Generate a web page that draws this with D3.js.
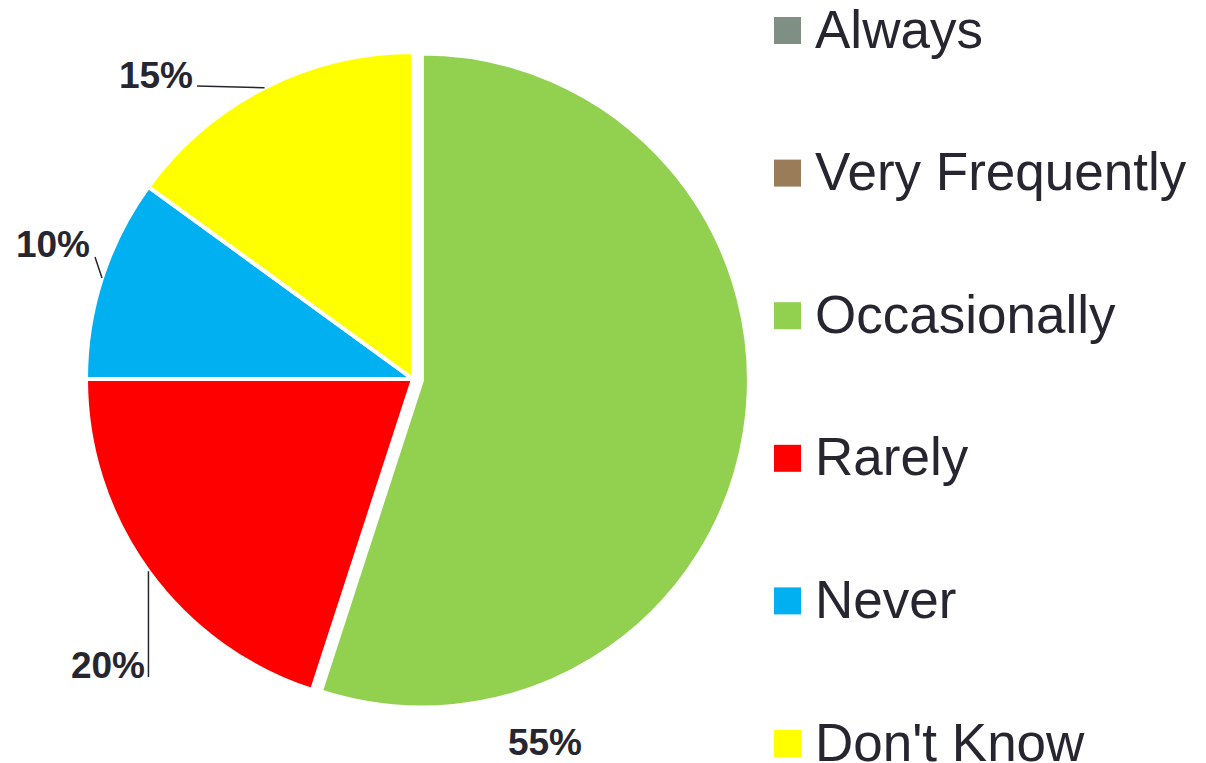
<!DOCTYPE html>
<html><head><meta charset="utf-8">
<script src="https://cdn.jsdelivr.net/npm/d3@7"></script>
<style>html,body{margin:0;padding:0;background:#fff;}svg{display:block;}</style>
</head><body>
<svg id="chart" width="1206" height="763"></svg>
<script>
const categories = ["Always", "Very Frequently", "Occasionally", "Rarely", "Never", "Don't Know"];
const values = [0, 0, 55, 20, 10, 15];
const labels = ["0%", "0%", "55%", "20%", "10%", "15%"];
const colors = ["#7f8f84", "#9a7d58", "#92d050", "#ff0000", "#00b0f0", "#ffff00"];

const W = 1206, H = 763;
const cx = 413, cy = 379, R = 327;
const explode = { "Occasionally": 9 };
const textColor = "#262630";

const svg = d3.select("#chart");
const pie = d3.pie().sort(null).value(d => d.value);
const data = categories.map((c, i) => ({ cat: c, value: values[i], label: labels[i], color: colors[i] }));
const arcs = pie(data);
const arc = d3.arc().innerRadius(0).outerRadius(R);

const g = svg.append("g").attr("transform", `translate(${cx},${cy})`);

function offset(d) {
  const e = explode[d.data.cat] || 0;
  const a = (d.startAngle + d.endAngle) / 2;
  return [e * Math.sin(a), -e * Math.cos(a)];
}

g.selectAll("path.slice").data(arcs.filter(d => d.value > 0)).join("path")
  .attr("class", "slice")
  .attr("d", arc)
  .attr("fill", d => d.data.color)
  .attr("stroke", "#fff").attr("stroke-width", 4).attr("stroke-linejoin", "miter")
  .attr("transform", d => { const o = offset(d); return `translate(${o[0]},${o[1]})`; });

// label layout (text anchor positions relative to pie centre, and leader bends)
const labelLayout = {
  "Occasionally": { x: 132, y: 376, anchor: "middle", leader: null },
  "Rarely": { x: -268, y: 299, anchor: "end", leader: [[-263, 298]] },
  "Never": { x: -323, y: -122, anchor: "end", leader: [[-318, -122]] },
  "Don't Know": { x: -220, y: -291, anchor: "end", leader: [[-216, -293]] }
};

arcs.filter(d => d.value > 0).forEach(d => {
  const L = labelLayout[d.data.cat];
  const a = (d.startAngle + d.endAngle) / 2;
  const o = offset(d);
  if (L.leader) {
    const start = [o[0] + R * Math.sin(a), o[1] - R * Math.cos(a)];
    let pts;
    if (d.data.cat === "Rarely") pts = [start, [start[0], L.leader[0][1]]];
    else pts = [start, L.leader[0]];
    g.append("path")
      .attr("d", d3.line()(pts))
      .attr("fill", "none").attr("stroke", textColor).attr("stroke-width", 1.5);
  }
  g.append("text")
    .attr("x", L.x).attr("y", L.y)
    .attr("text-anchor", L.anchor)
    .attr("font-family", "Liberation Sans, Arial, sans-serif")
    .attr("font-weight", "bold").attr("font-size", 37)
    .attr("fill", textColor)
    .text(d.data.label);
});

// legend
const ly = d3.scalePoint().domain(categories).range([30.5, 743.5]);
const lg = svg.append("g");
const items = lg.selectAll("g").data(data).join("g")
  .attr("transform", d => `translate(774,${ly(d.cat)})`);
items.append("rect").attr("x", 0).attr("y", -13.5).attr("width", 27).attr("height", 27)
  .attr("fill", d => d.color);
items.append("text").attr("x", 41).attr("y", 17)
  .attr("font-family", "Liberation Sans, Arial, sans-serif")
  .attr("font-size", 53).attr("fill", textColor)
  .text(d => d.cat);
</script>
</body></html>
